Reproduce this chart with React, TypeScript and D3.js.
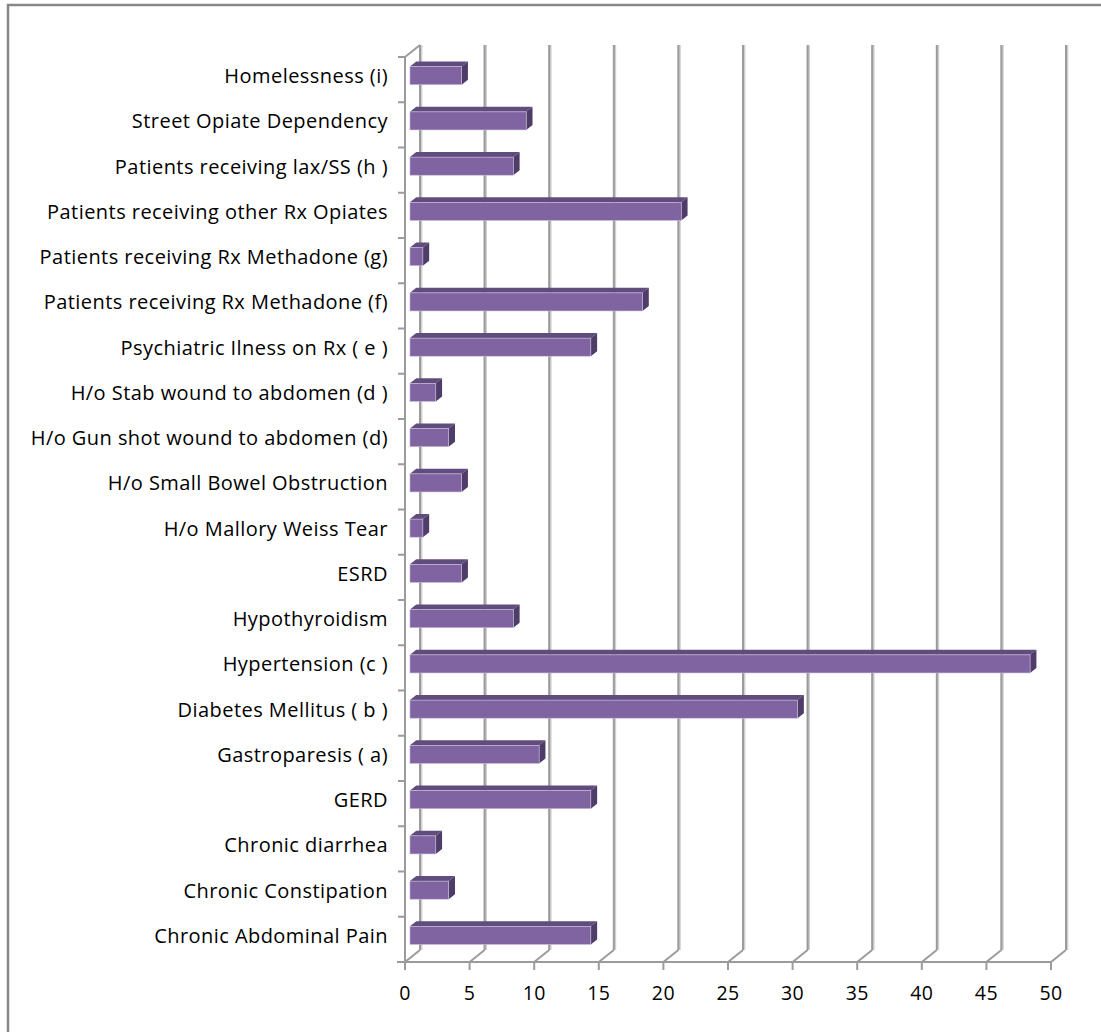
import React from "react";
import * as d3 from "d3";

const categories = [
  "Homelessness (i)",
  "Street Opiate Dependency",
  "Patients receiving lax/SS (h )",
  "Patients receiving other Rx Opiates",
  "Patients receiving Rx Methadone (g)",
  "Patients receiving Rx Methadone (f)",
  "Psychiatric Ilness on Rx ( e )",
  "H/o Stab wound to abdomen (d )",
  "H/o Gun shot wound to abdomen (d)",
  "H/o Small Bowel Obstruction",
  "H/o Mallory Weiss Tear",
  "ESRD",
  "Hypothyroidism",
  "Hypertension (c )",
  "Diabetes Mellitus ( b )",
  "Gastroparesis ( a)",
  "GERD",
  "Chronic diarrhea",
  "Chronic Constipation",
  "Chronic Abdominal Pain",
];
const values = [4, 9, 8, 21, 1, 18, 14, 2, 3, 4, 1, 4, 8, 48, 30, 10, 14, 2, 3, 14];
const xTicks = [0, 5, 10, 15, 20, 25, 30, 35, 40, 45, 50];

const W = 1101;
const H = 1032;
const DX = 15;
const DY = -12;
const T0 = 0.33;
const T1 = 0.75;

export default function App() {
  const x = d3.scaleLinear().domain([0, 50]).range([405, 1051]);
  const y = d3.scaleBand<string>().domain(categories).range([57, 962]).paddingInner(0).paddingOuter(0);
  const floorY = 962;
  const topY = 57;
  const bandBounds = d3.range(categories.length + 1).map((i) => topY + i * y.step());
  const barH = y.bandwidth() * 0.4;
  const grid = "#9b9b9b";
  const font = "'Open Sans', Lato, sans-serif";

  return (
    <svg width={W} height={H} style={{ position: "absolute", left: 0, top: 0, background: "#fff" }} xmlns="http://www.w3.org/2000/svg">
      <rect x={8} y={5} width={1200} height={1200} fill="#fff" stroke="#878787" strokeWidth={2.5} />
      {xTicks.map((t) => (
        <g key={"g" + t}>
          <line x1={x(t) + DX} x2={x(t) + DX} y1={floorY + DY} y2={topY + DY} stroke="#d0d0d0" strokeWidth={3.2} transform="translate(0.8,0)" />
          <line x1={x(t) + DX} x2={x(t) + DX} y1={floorY + DY} y2={topY + DY} stroke={grid} strokeWidth={2} />
          <line x1={x(t)} y1={floorY} x2={x(t) + DX} y2={floorY + DY} stroke={grid} strokeWidth={2} />
          <line x1={x(t)} y1={floorY} x2={x(t)} y2={floorY + 8} stroke={grid} strokeWidth={2} />
          <text x={x(t)} y={1000} textAnchor="middle" fontFamily={font} fontSize={19.5} letterSpacing={0.4} fill="#000">{t}</text>
        </g>
      ))}
      <line x1={x(0)} x2={x(0)} y1={topY} y2={floorY} stroke={grid} strokeWidth={2} />
      <line x1={x(0)} y1={topY} x2={x(0) + DX} y2={topY + DY} stroke={grid} strokeWidth={2} />
      <line x1={x(0) - 8} x2={x(50)} y1={floorY} y2={floorY} stroke={grid} strokeWidth={2} />
      {bandBounds.map((b, i) => (
        <line key={"yt" + i} x1={x(0) - 7} x2={x(0)} y1={b} y2={b} stroke={grid} strokeWidth={2} />
      ))}
      {categories.map((c, i) => {
        const v = values[i];
        const cy = (y(c) as number) + y.bandwidth() / 2;
        const ox = T0 * DX;
        const oy = T0 * DY;
        const dx = (T1 - T0) * DX;
        const dy = (T1 - T0) * DY;
        const x0 = x(0) + ox;
        const x1 = x(v) + ox;
        const yt = cy - barH / 2 + oy;
        const yb = cy + barH / 2 + oy;
        return (
          <g key={"b" + i}>
            <polygon points={`${x0},${yt} ${x1},${yt} ${x1 + dx},${yt + dy} ${x0 + dx},${yt + dy}`} fill="#604c7d" />
            <polygon points={`${x1},${yt} ${x1 + dx},${yt + dy} ${x1 + dx},${yb + dy} ${x1},${yb}`} fill="#4f3d69" />
            <rect x={x0} y={yt} width={x1 - x0} height={yb - yt} fill="#8064a2" stroke="#cbbfdc" strokeWidth={0.6} />
          </g>
        );
      })}
      {categories.map((c, i) => (
        <text key={"l" + i} x={388} y={(y(c) as number) + y.bandwidth() / 2 - 4} dominantBaseline="central" textAnchor="end" fontFamily={font} fontSize={20} letterSpacing={0.45} fill="#000">
          {c}
        </text>
      ))}
    </svg>
  );
}
